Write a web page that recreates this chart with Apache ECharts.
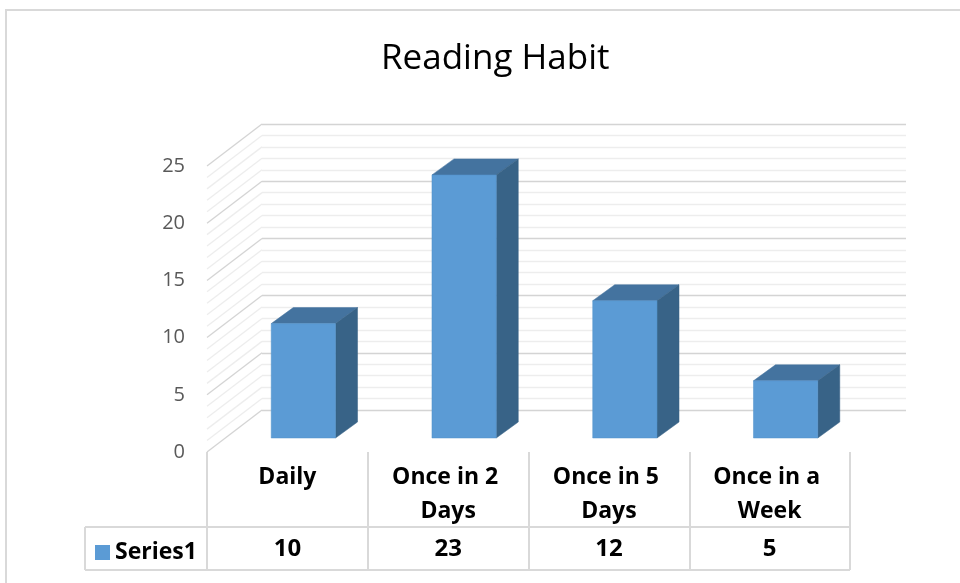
<!DOCTYPE html>
<html>
<head>
<meta charset="utf-8">
<script src="https://cdn.jsdelivr.net/npm/echarts@6/dist/echarts.min.js"></script>
<style>
  html, body { margin: 0; padding: 0; background: #fff; }
  #chart { width: 960px; height: 583px; }
</style>
</head>
<body>
<div id="chart"></div>
<script>
// data
const categories = ['Daily', 'Once in 2 Days', 'Once in 5 Days', 'Once in a Week'];
const seriesName = 'Series1';
const values = [10, 23, 12, 5];
// levels of the side-wall grid lines (every unit, major every 5)
const wallLevels = [0, 1, 2, 3, 4, 5, 6, 7, 8, 9, 10, 11, 12, 13, 14, 15, 16, 17, 18, 19, 20, 21, 22, 23, 24, 25];

const FONT = 'Open Sans, Lato, sans-serif';
const BLUE = '#5B9BD5';
const TOP = '#44739F';
const SIDE = '#386387';
const GRID_MAJOR = '#D4D4D4';
const GRID_MINOR = '#EDEDED';
// depth offset from the front plane to the back wall
const DEPTH = [55, -42];

const chart = echarts.init(document.getElementById('chart'));

function renderBar(params, api) {
  const i = api.value(0);
  const base = api.coord([i, 0]);
  const top = api.coord([i, api.value(1)]);
  const w = api.size([1, 0])[0] * 0.4;
  const l = base[0] - w / 2 + 16;
  const r = l + w;
  const t = top[1] - 14;
  const b = base[1] - 14;
  const sx = 22, sy = -16;
  return {
    type: 'group',
    children: [
      { type: 'polygon', shape: { points: [[l, t], [r, t], [r + sx, t + sy], [l + sx, t + sy]] },
        style: { fill: TOP, stroke: TOP, lineWidth: 0.5 } },
      { type: 'polygon', shape: { points: [[r, t], [r + sx, t + sy], [r + sx, b + sy], [r, b]] },
        style: { fill: SIDE, stroke: SIDE, lineWidth: 0.5 } },
      { type: 'rect', shape: { x: l, y: t, width: w, height: b - t },
        style: { fill: BLUE, stroke: '#5090C8', lineWidth: 0.5 } }
    ]
  };
}

function renderWall(params, api) {
  const v = api.value(1);
  const p = api.coord([0, v]);
  const x0 = p[0] - api.size([1, 0])[0] / 2;
  return {
    type: 'line',
    shape: { x1: x0, y1: p[1], x2: x0 + DEPTH[0], y2: p[1] + DEPTH[1] },
    style: { stroke: v % 5 === 0 ? GRID_MAJOR : GRID_MINOR, lineWidth: 1.3 }
  };
}

function renderValue(params, api) {
  const p = api.coord([api.value(0), 0]);
  return {
    type: 'text',
    style: {
      x: p[0], y: p[1] + 97, text: String(api.value(1)),
      align: 'center', verticalAlign: 'middle',
      font: 'bold 24px ' + FONT, fill: '#000'
    }
  };
}

const option = {
  animation: false,
  backgroundColor: '#fff',
  title: {
    text: 'Reading Habit',
    left: 376,
    top: 37,
    textStyle: { fontFamily: FONT, fontSize: 35, fontWeight: 'normal', color: '#000' }
  },
  legend: {
    data: [seriesName],
    left: 90,
    top: 536,
    icon: 'rect',
    itemWidth: 15,
    itemHeight: 15,
    itemGap: 0,
    textStyle: { fontFamily: FONT, fontSize: 23, fontWeight: 'bold', color: '#000', padding: [0, 0, 0, 0] }
  },
  grid: [
    // back wall plane
    { left: 262, right: 54, top: 124, bottom: 173 },
    // front plane (axis labels and data table)
    { left: 207, right: 110, top: 166, bottom: 131 }
  ],
  xAxis: [
    { type: 'category', gridIndex: 0, data: categories, show: false },
    {
      type: 'category', gridIndex: 1, data: categories,
      axisLine: { show: false },
      axisTick: { show: true, length: 118, lineStyle: { color: '#D9D9D9', width: 2 } },
      axisLabel: {
        interval: 0, margin: 8, width: 150, overflow: 'break', lineHeight: 34,
        fontFamily: FONT, fontSize: 23, fontWeight: 'bold', color: '#000'
      }
    }
  ],
  yAxis: [
    {
      type: 'value', gridIndex: 0, min: 0, max: 25, interval: 5,
      axisLine: { show: false }, axisTick: { show: false }, axisLabel: { show: false },
      splitLine: { lineStyle: { color: GRID_MAJOR, width: 1.3 } },
      minorTick: { show: false, splitNumber: 5 },
      minorSplitLine: { show: true, lineStyle: { color: GRID_MINOR, width: 1.3 } }
    },
    {
      type: 'value', gridIndex: 1, min: 0, max: 25, interval: 5,
      axisLine: { show: false }, axisTick: { show: false }, splitLine: { show: false },
      axisLabel: { margin: 22, fontFamily: FONT, fontSize: 20, color: '#595959' }
    }
  ],
  series: [
    {
      type: 'custom', name: 'wall', xAxisIndex: 1, yAxisIndex: 1, z: 1,
      renderItem: renderWall, silent: true,
      data: wallLevels.map(v => [0, v])
    },
    {
      type: 'custom', name: seriesName, xAxisIndex: 1, yAxisIndex: 1, z: 3,
      renderItem: renderBar,
      itemStyle: { color: BLUE },
      data: values.map((v, i) => [i, v])
    },
    {
      type: 'custom', name: 'values', xAxisIndex: 1, yAxisIndex: 1, z: 3,
      renderItem: renderValue, silent: true,
      data: values.map((v, i) => [i, v])
    }
  ],
  graphic: [
    { type: 'rect', shape: { x: 6, y: 10, width: 1000, height: 1000 },
      style: { fill: 'none', stroke: '#D9D9D9', lineWidth: 2 } },
    { type: 'line', shape: { x1: 85, y1: 527, x2: 850, y2: 527 }, style: { stroke: '#D9D9D9', lineWidth: 2 } },
    { type: 'line', shape: { x1: 85, y1: 570, x2: 850, y2: 570 }, style: { stroke: '#D9D9D9', lineWidth: 2 } },
    { type: 'line', shape: { x1: 85, y1: 527, x2: 85, y2: 570 }, style: { stroke: '#D9D9D9', lineWidth: 2 } }
  ]
};

chart.setOption(option);
</script>
</body>
</html>
